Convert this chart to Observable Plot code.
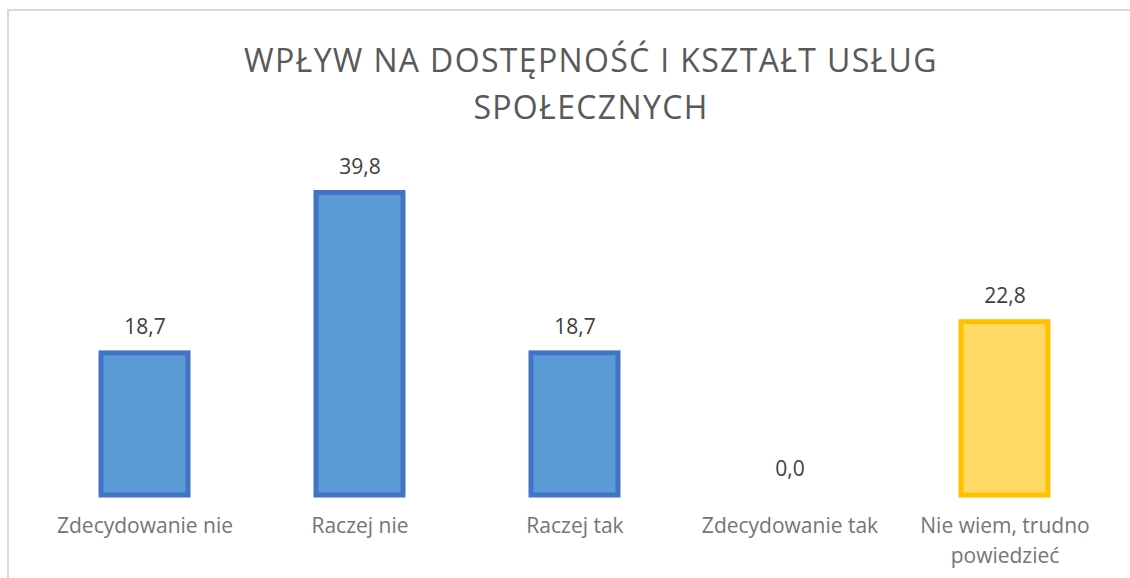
<!DOCTYPE html>
<html>
<head>
<meta charset="utf-8">
<script src="https://cdn.jsdelivr.net/npm/d3@7"></script>
<script src="https://cdn.jsdelivr.net/npm/@observablehq/plot@0.6"></script>
<style>
  html, body { margin: 0; padding: 0; background: #fff; overflow: hidden; width: 1130px; height: 578px; }
  #frame { position: absolute; left: 7px; top: 9px; width: 1200px; height: 700px; border: 2px solid #d9d9d9; box-sizing: border-box; }
  #wrap { position: absolute; left: 0; top: 0; width: 1130px; height: 578px; }
  #title { height: 130px; box-sizing: border-box; padding-top: 36px; padding-left: 52px; text-align: center; font-family: "Open Sans", sans-serif; font-size: 32px; line-height: 47px; color: #595959; letter-spacing: 1.35px; }
  svg { display: block; }
</style>
</head>
<body>
<div id="frame"></div>
<div id="wrap">
  <div id="title">WPŁYW NA DOSTĘPNOŚĆ I KSZTAŁT USŁUG<br>SPOŁECZNYCH</div>
  <div id="chart"></div>
</div>
<script>
const categories = ["Zdecydowanie nie", "Raczej nie", "Raczej tak", "Zdecydowanie tak", "Nie wiem, trudno powiedzieć"];
const tickLabels = ["Zdecydowanie nie", "Raczej nie", "Raczej tak", "Zdecydowanie tak", "Nie wiem, trudno\npowiedzieć"];
const values = [18.7, 39.8, 18.7, 0.0, 22.8];
const fills = ["#5B9BD5", "#5B9BD5", "#5B9BD5", "#5B9BD5", "#FFD966"];
const strokes = ["#4472C4", "#4472C4", "#4472C4", "#4472C4", "#FFC000"];

const data = categories.map((c, i) => ({cat: c, value: values[i], fill: fills[i], stroke: strokes[i], label: tickLabels[i]}));
const fmt = v => v.toFixed(1).replace(".", ",");

const chart = Plot.plot({
  width: 1130,
  height: 448,
  marginLeft: 100.5,
  marginRight: 82.4,
  marginTop: 0,
  marginBottom: 83,
  style: {fontFamily: "'Open Sans', sans-serif", background: "transparent", overflow: "visible"},
  x: {domain: categories, paddingInner: 0.595, paddingOuter: 0, align: 0.5},
  y: {domain: [0, 40], range: [365, 61], axis: null},
  marks: [
    Plot.barY(data.filter(d => d.value > 0), {x: "cat", y: "value", fill: "fill", stroke: "stroke", strokeWidth: 5}),
    Plot.text(data, {x: "cat", y: "value", text: d => fmt(d.value), dy: -26, fontSize: 21, fill: "#404040"}),
    Plot.axisX({tickSize: 0, tickPadding: 17, fontSize: 21, color: "#757575", tickFormat: d => tickLabels[categories.indexOf(d)], lineHeight: 1.4, label: null})
  ]
});
document.getElementById("chart").appendChild(chart);
</script>
</body>
</html>
